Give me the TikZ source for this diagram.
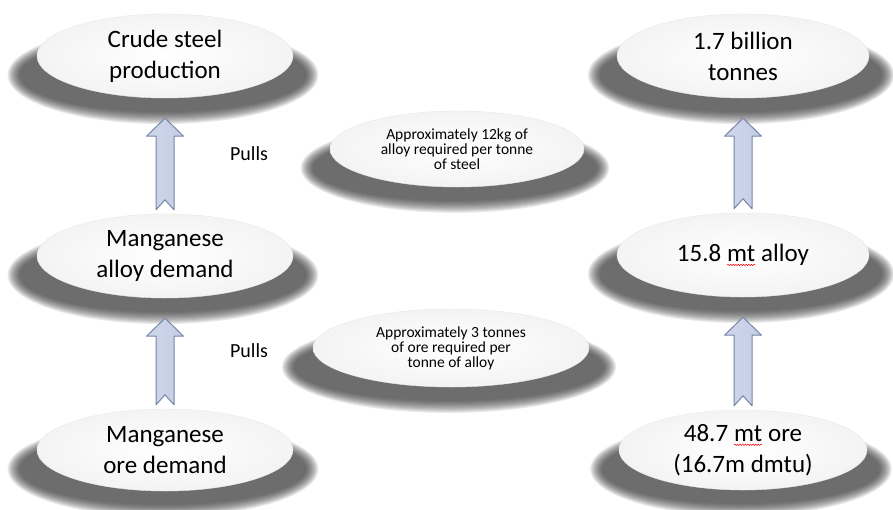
\documentclass[tikz,border=0pt]{standalone}
\usepackage{fontspec}
\setmainfont{Carlito}
\usepackage{tikz}
\usetikzlibrary{shapes,calc,backgrounds}
\usetikzlibrary{decorations.pathmorphing}
\definecolor{arrowline}{RGB}{118,133,166}
\definecolor{arrowfill}{RGB}{196,205,230}
\definecolor{shadowgray}{RGB}{60,60,60}

% wavy red underline as in the source
\newcommand{\redwave}[1]{\tikz[baseline=(w.base)]{\node[shape=rectangle,minimum width=0pt,minimum height=0pt,inner sep=0pt,outer sep=0pt] (w) {#1};
  \draw[red,line width=0.5pt,decorate,decoration={snake,amplitude=0.7pt,segment length=2.6pt}] ([yshift=-3.5pt]w.base west) -- ([yshift=-3.5pt]w.base east);}}

\begin{document}
\begin{tikzpicture}[line cap=round,line join=round,x=1pt,y=-1pt,
	capsule/.style={ellipse,inner sep=0pt,shade,inner color=white,outer color=gray!9,draw=gray!18,line width=0.4pt,align=center,font=\fontsize{25}{31}\selectfont},
	note/.style={capsule,font=\fontsize{15.5}{15}\selectfont},
	pull/.style={font=\fontsize{20}{24}\selectfont},
	blockarrow/.style={draw=arrowline,line width=1pt,left color=arrowfill!80,middle color=white,right color=arrowfill}]
		\useasboundingbox (0,0) rectangle (893,509);
		% left column
		\node[capsule,minimum width=256pt,minimum height=84pt] (steel) at (165,56) {Crude steel\\production};
		\node[capsule,minimum width=256pt,minimum height=84pt] (alloy) at (165,256) {Manganese\\alloy demand};
		\node[capsule,minimum width=256pt,minimum height=82pt] (ore) at (165,450) {Manganese\\ore demand};
		% right column
		\node[capsule,minimum width=252pt,minimum height=84pt] (total) at (743,56) {1.7 billion\\tonnes};
		\node[capsule,minimum width=252pt,minimum height=84pt] (alloyt) at (743,255) {15.8 \redwave{mt} alloy};
		\node[capsule,minimum width=248pt,minimum height=80pt] (oret) at (743,450) {48.7 \redwave{mt} ore\\(16.7m dmtu)};
		% ratios in the middle
		\node[note,minimum width=254pt,minimum height=76pt] (ratio1) at (457,149) {Approximately 12kg of\\alloy required per tonne\\of steel};
		\node[note,minimum width=276pt,minimum height=78pt] (ratio2) at (451,348) {Approximately 3 tonnes\\of ore required per\\tonne of alloy};
		\node[pull] (pull1) at (249,154) {Pulls};
		\node[pull] (pull2) at (249,351) {Pulls};
		% soft shadows
		\begin{pgfonlayer}{background}
		\fill[white] (0,0) rectangle (893,509);
		\foreach \n/\w/\h in {steel/256/84,alloy/256/84,ore/256/82,total/252/84,alloyt/252/84,oret/248/80,ratio1/254/76,ratio2/276/78}
			\foreach \k in {0,...,11} {
				\pgfmathsetmacro{\rx}{\w*0.58+7-1.1*\k}
				\pgfmathsetmacro{\ry}{\h*0.525+5-1.1*\k}
				\fill[shadowgray,opacity=0.1] ($(\n)+(-2,19)$) ellipse [x radius=\rx pt,y radius=\ry pt];
			}
		\end{pgfonlayer}
		% block arrows
		\foreach \a/\b in {alloy/steel,ore/alloy,alloyt/total,oret/alloyt}
			\draw[blockarrow] ($(\b.south)+(0,20)$) -- ++(18.5,18) -- ++(-9.5,0) -- ($(\a.north)+(9,-4)$) -- ($(\a.north)+(0,-14)$)
				-- ($(\a.north)+(-9,-4)$) -- ($(\b.south)+(-9,38)$) -- ($(\b.south)+(-18.5,38)$) -- cycle;
\end{tikzpicture}
\end{document}
